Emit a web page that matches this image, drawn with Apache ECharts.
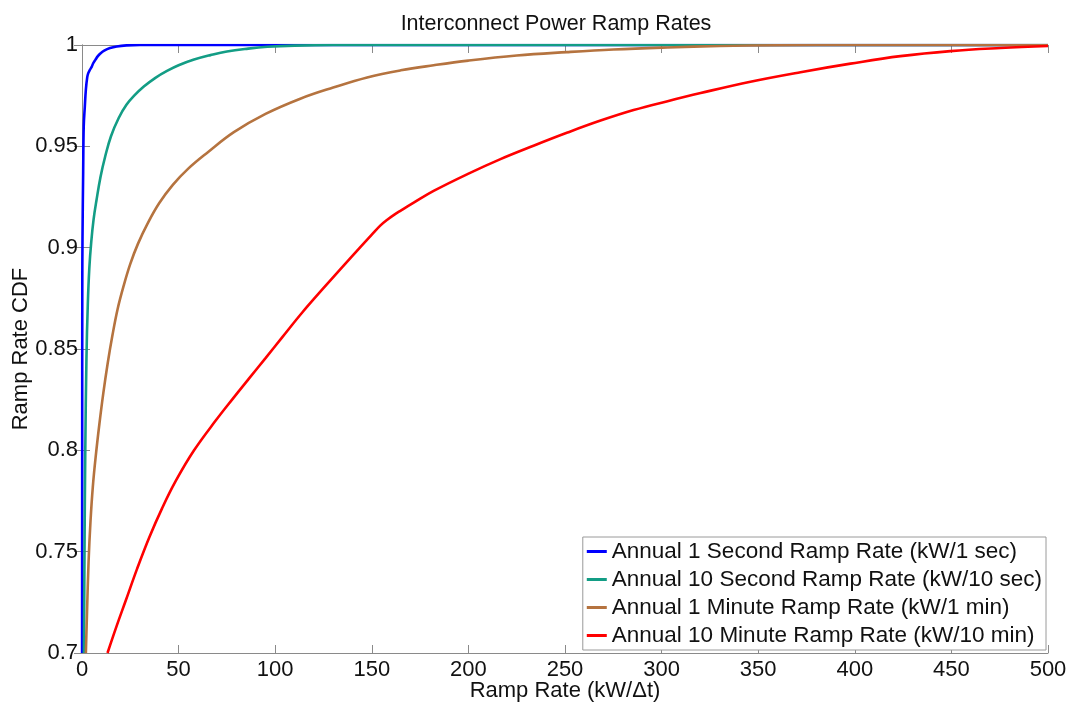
<!DOCTYPE html>
<html>
<head>
<meta charset="utf-8">
<title>Interconnect Power Ramp Rates</title>
<script src="https://cdn.jsdelivr.net/npm/echarts@6/dist/echarts.min.js"></script>
<style>
  html, body { margin: 0; padding: 0; background: #fff; }
  #chart { width: 1071px; height: 702px; }
</style>
</head>
<body>
<div id="chart"></div>
<script>
// Ramp-rate CDF curves: x = ramp rate (kW/Δt), y = cumulative probability
const seriesNames = [
  'Annual 1 Second Ramp Rate (kW/1 sec)',
  'Annual 10 Second Ramp Rate (kW/10 sec)',
  'Annual 1 Minute Ramp Rate (kW/1 min)',
  'Annual 10 Minute Ramp Rate (kW/10 min)'
];
const seriesColors = ['#0000ff', '#139d85', '#b5733f', '#ff0000'];

const sec1X = [0.05, 0.1, 0.15, 0.26, 0.6, 0.9, 1.45, 2.0, 2.7, 3.2, 4.0, 5.0, 5.8, 7.0, 8.2, 9.5, 11.5, 14.5, 18, 23, 30, 500];
const sec1Y = [0.700, 0.800, 0.880, 0.905, 0.937, 0.960, 0.9695, 0.978, 0.984, 0.986, 0.9876, 0.9892, 0.991, 0.9928, 0.9945, 0.9958, 0.9972, 0.9985, 0.9993, 0.9998, 1.0, 1.0];

const sec10X = [1.0, 1.3, 1.7, 2.3, 3.0, 3.8, 4.8, 6.0, 7.5, 9.6, 12, 15, 19, 23, 27, 32, 38, 44, 50, 58, 66.5, 75, 86, 96, 110, 130, 500];
const sec10Y = [0.700, 0.750, 0.800, 0.845, 0.872, 0.890, 0.903, 0.914, 0.9234, 0.935, 0.945, 0.955, 0.964, 0.9705, 0.975, 0.9795, 0.9838, 0.9872, 0.990, 0.9928, 0.995, 0.9968, 0.9982, 0.9991, 0.9997, 1.0, 1.0];

const min1X = [2.0, 2.6, 3.4, 4.4, 5.6, 7.1, 9.0, 11.0, 13.3, 15.8, 18.5, 21.5, 25, 29, 34, 40, 47, 55, 65, 78.6, 95, 113, 130, 147.6, 165, 182, 200, 225, 251, 275, 303, 330, 360, 400, 500];
const min1Y = [0.700, 0.720, 0.745, 0.765, 0.782, 0.797, 0.813, 0.828, 0.843, 0.857, 0.870, 0.881, 0.892, 0.902, 0.912, 0.922, 0.931, 0.939, 0.947, 0.957, 0.966, 0.9735, 0.979, 0.984, 0.9875, 0.990, 0.9923, 0.9948, 0.9965, 0.9978, 0.9988, 0.9995, 0.9999, 1.0, 1.0];

const min10X = [13.2, 18, 22.7, 28.5, 34.8, 41.5, 48.6, 58, 69.3, 78, 86.5, 95, 103.8, 114, 124.5, 134, 144.3, 150, 154.5, 158, 161.5, 165, 171.7, 182.0, 199.5, 216.6, 233.7, 251.3, 268.4, 285.5, 303.1, 320.2, 346.0, 371.9, 397.8, 423.6, 449.5, 475.4, 500];
const min10Y = [0.700, 0.7135, 0.726, 0.7415, 0.757, 0.7715, 0.785, 0.800, 0.8148, 0.8254, 0.8355, 0.8455, 0.856, 0.868, 0.8795, 0.8897, 0.9005, 0.9064, 0.911, 0.9138, 0.9162, 0.9183, 0.9222, 0.9280, 0.9363, 0.9437, 0.9503, 0.9568, 0.9627, 0.9679, 0.9723, 0.9763, 0.9819, 0.9866, 0.9908, 0.9945, 0.9970, 0.9985, 0.9995];

const xTicks = [0, 50, 100, 150, 200, 250, 300, 350, 400, 450, 500];
const yTicks = [0.7, 0.75, 0.8, 0.85, 0.9, 0.95, 1];

const xSets = [sec1X, sec10X, min1X, min10X];
const ySets = [sec1Y, sec10Y, min1Y, min10Y];

const FONT = '"Liberation Sans", Arial, Helvetica, sans-serif';
const AXIS_GRAY = '#8a8a8a';
const TEXT = '#111111';

function pairs(xs, ys) {
  return xs.map((x, i) => [x, ys[i]]);
}

function fmtY(v) {
  // labels as written on the axis: 1, 0.95, 0.9 ...
  return String(Math.round(v * 100) / 100);
}

const chart = echarts.init(document.getElementById('chart'), null, { renderer: 'canvas' });

const baseX = {
  type: 'value',
  min: xTicks[0],
  max: xTicks[xTicks.length - 1],
  interval: xTicks[1] - xTicks[0],
  splitLine: { show: false },
  axisLine: { show: true, lineStyle: { color: AXIS_GRAY, width: 1 } },
  axisTick: { show: true, inside: true, length: 8, lineStyle: { color: AXIS_GRAY } }
};
const baseY = {
  type: 'value',
  min: yTicks[0],
  max: yTicks[yTicks.length - 1],
  interval: 0.05,
  splitLine: { show: false },
  axisLine: { show: true, lineStyle: { color: AXIS_GRAY, width: 1 } },
  axisTick: { show: true, inside: true, length: 8, lineStyle: { color: AXIS_GRAY } }
};

const option = {
  backgroundColor: '#ffffff',
  animation: false,
  title: {
    text: 'Interconnect Power Ramp Rates',
    left: 551,
    textAlign: 'center',
    top: 8,
    textStyle: { fontFamily: FONT, fontSize: 21.5, fontWeight: 'normal', color: TEXT }
  },
  grid: { left: 82, right: 23, top: 45, bottom: 49, containLabel: false, outerBoundsMode: 'none' },
  legend: {
    orient: 'vertical',
    right: 25,
    bottom: 52,
    data: seriesNames,
    icon: 'rect',
    itemWidth: 20,
    itemHeight: 3,
    itemGap: 5,
    itemTextGap: 2,
    padding: [3, 4, 3, 4],
    backgroundColor: '#ffffff',
    borderColor: '#9a9a9a',
    borderWidth: 1,
    borderRadius: 0,
    textStyle: { fontFamily: FONT, fontSize: 22.5, color: TEXT }
  },
  xAxis: [
    Object.assign({}, baseX, {
      position: 'bottom',
      name: 'Ramp Rate (kW/Δt)',
      nameLocation: 'middle',
      nameGap: 27,
      nameMoveOverlap: false,
      nameTextStyle: { fontFamily: FONT, fontSize: 22, color: TEXT, verticalAlign: 'top' },
      axisLabel: { fontFamily: FONT, fontSize: 22, color: TEXT, margin: 6 }
    }),
    Object.assign({}, baseX, {
      position: 'top',
      axisLabel: { show: false }
    })
  ],
  yAxis: [
    Object.assign({}, baseY, {
      position: 'left',
      name: 'Ramp Rate CDF',
      nameLocation: 'middle',
      nameGap: 50,
      nameRotate: 90,
      nameMoveOverlap: false,
      nameTextStyle: { fontFamily: FONT, fontSize: 22, color: TEXT },
      axisLabel: { fontFamily: FONT, fontSize: 22, color: TEXT, margin: 4, formatter: fmtY }
    }),
    Object.assign({}, baseY, {
      position: 'right',
      axisLabel: { show: false }
    })
  ],
  series: seriesNames.map((name, i) => ({
    name: name,
    type: 'line',
    xAxisIndex: 0,
    yAxisIndex: 0,
    data: pairs(xSets[i], ySets[i]),
    showSymbol: false,
    smooth: 0.4,
    clip: true,
    color: seriesColors[i],
    lineStyle: { color: seriesColors[i], width: 2.6 },
    z: 3 + i
  }))
};

chart.setOption(option);
</script>
</body>
</html>
